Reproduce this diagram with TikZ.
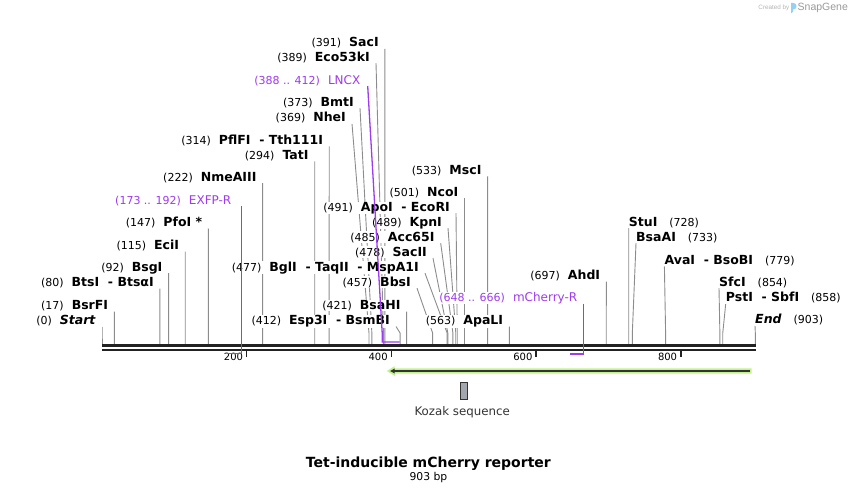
\documentclass[tikz,border=0pt]{standalone}
\usepackage{fontspec}
\setmainfont{DejaVu Sans}
\newfontfamily\credfont{Liberation Sans}
\usetikzlibrary{arrows.meta}

\definecolor{cutgray}{HTML}{8C8C8C}
\definecolor{primerpurple}{HTML}{9D3BEF}
\definecolor{featgreen}{HTML}{C2F28C}
\definecolor{featdark}{HTML}{333333}
\definecolor{seqblack}{HTML}{222222}
\definecolor{kozakgray}{HTML}{A2A7AE}
\definecolor{credgray}{HTML}{B4B4B4}
\definecolor{snapblue}{HTML}{93D2F2}

\newcommand\numf{\fontsize{11}{12}\selectfont}
\newcommand\namf{\fontsize{12.5}{14}\selectfont\bfseries}
\newcommand\primf{\fontsize{12}{14}\selectfont}

\tikzset{
  enz/.style={inner sep=0.5pt, fill=white, text=black},
  primer/.style={text=primerpurple},
  cut/.style={draw=cutgray, line width=0.9pt},
  primerline/.style={draw=primerpurple, line width=1.3pt},
  seqline/.style={draw=seqblack},
  tickmark/.style={draw=seqblack, line width=1.4pt},
  ticklab/.style={inner sep=0pt, font=\fontsize{10}{12}\selectfont}
}

\begin{document}
\begin{tikzpicture}[x=1pt, y=-1pt]
    \useasboundingbox (0,0) rectangle (858,494);

    % --- enzyme sites, labels left of their cut lines ---
    \foreach \id/\pos/\lab/\x/\y in {
        s0/0/\textit{Start}/102/326.5,
        bsrfi/17/BsrFI/114.3/311.5,
        btsi/80/BtsI\ \ - BtsαI/159.9/288.5,
        bsgi/92/BsgI/168.6/273.2,
        ecii/115/EciI/185.2/251.5,
        pfoi/147/PfoI */208.4/228.5,
        nme/222/NmeAIII/262.6/183.2,
        tati/294/TatI/314.7/161.5,
        pflfi/314/PflFI\ \ - Tth111I/329.2/146.5,
        nhei/369/NheI/352/123.8,
        bmti/373/BmtI/360/108.2,
        eco/389/Eco53kI/376/63.2,
        saci/391/SacI/384.9/48.8,
        esp/412/Esp3I\ \ - BsmBI/396/326.5,
        bsahi/421/BsaHI/406.6/311.5,
        bbsi/457/BbsI/417/288.2,
        bgli/477/BglI\ \ - TaqII\ \ - MspA1I/425/273.2,
        sacii/478/SacII/433/258.2,
        acc/485/Acc65I/440.7/243.2,
        kpni/489/KpnI/448/228.2,
        apoi/491/ApoI\ \ - EcoRI/456/213.2,
        ncoi/501/NcoI/464.5/198.2,
        msci/533/MscI/487.6/176.5,
        apali/563/ApaLI/509.3/326.5,
        ahdi/697/AhdI/606.3/281.5} {
        \coordinate (t\id) at (\x,\y);
        \coordinate (b\id) at ({102+0.7235*\pos},333);
        \coordinate (s\id) at ({102+0.7235*\pos},344.5);
        \draw[cut] (t\id) -- (b\id) -- (s\id);
        \node[enz, anchor=base east] (n\id) at ({\x-5.5},{\y-2})
            {{\numf(\pos)}\hspace{8pt}{\namf\lab}};
    }

    % --- enzyme sites, labels right of their cut lines ---
    \foreach \id/\pos/\lab/\x/\y in {
        stui/728/StuI/628.7/228.2,
        bsaai/733/BsaAI/636/243.2,
        avai/779/AvaI\ \ - BsoBI/664.4/266.5,
        sfci/854/SfcI/719/288.2,
        psti/858/PstI\ \ - SbfI/725.7/303.8,
        e903/903/\textit{End}/755/325.8} {
        \coordinate (t\id) at (\x,\y);
        \coordinate (b\id) at ({102+0.7235*\pos},333);
        \coordinate (s\id) at ({102+0.7235*\pos},344.5);
        \draw[cut] (t\id) -- (b\id) -- (s\id);
        \node[enz, anchor=base west] (n\id) at ({\x-0.5},{\y-2})
            {{\namf\lab}\hspace{12pt}{\numf(\pos)}};
    }

    % --- primers ---
    \coordinate (texfp) at (241.6,206.5); \coordinate (kexfp) at (241.6,353.5);
    \coordinate (eexfp) at (226.7,353.5);
    \coordinate (tlncx) at (367.7,86); \coordinate (blncx) at (382.2,333);
    \coordinate (klncx) at (382.2,342); \coordinate (elncx) at (399.6,342);
    \coordinate (tmch) at (583.3,303.5); \coordinate (kmch) at (583.3,354);
    \coordinate (emch) at (570,354);

    % --- sequence line and ruler ---
    \coordinate (seqL) at (102,345.5); \coordinate (seqR) at (755.5,345.5);
    \draw[seqline, line width=2.8pt] (seqL) -- (seqR);
    \draw[seqline, line width=2pt] ([yshift=-4.2pt]seqL) -- ([yshift=-4.2pt]seqR);
    \foreach \t in {200,400,600,800} {
        \coordinate (tk\t) at ({102+0.7235*\t},350.5);
        \draw[tickmark] (tk\t) -- ++(0,6.5);
        \node[ticklab, anchor=east] (tl\t) at ([xshift=-3.5pt]{102+0.7235*\t},356.7) {\t};
    }

    \draw[primerline] (texfp) -- (kexfp) -- (eexfp);
    \draw[primerline] (tlncx) -- (blncx) -- (klncx) -- (elncx);
    \draw[primerline] (tmch) -- (kmch) -- (emch);
    \node[enz, primer, anchor=base east] (nexfp) at (232,204.3)
        {{\numf(173 .. 192)}\hspace{8pt}{\primf EXFP-R}};
    \node[enz, primer, anchor=base east] (nlncx) at (361,85)
        {{\numf(388 .. 412)}\hspace{8pt}{\primf LNCX}};
    \node[enz, primer, anchor=base east] (nmch) at (578,301.3)
        {{\numf(648 .. 666)}\hspace{8pt}{\primf mCherry-R}};

    % --- feature arrow and Kozak sequence ---
    \coordinate (fR) at (751.7,371); \coordinate (fL) at (386.7,371);
    \fill[featgreen] ([yshift=2.7pt]fR) -- ++(-357,0) -- ++(0,-2.3) -- (fL)
        -- ++(8.3,5) -- ++(0,-2.3) -- ([yshift=-2.7pt]fR) -- cycle;
    \draw[featdark, line width=1.6pt, -{Latex[length=5pt,width=5.5pt]}]
        ([xshift=-2pt]fR) -- ([xshift=3pt]fL);

    \node[draw=featdark, fill=kozakgray, line width=0.9pt, inner sep=0pt,
          minimum width=7pt, minimum height=16.5pt] (kozak) at (463.7,391) {};
    \node[inner sep=0pt, font=\fontsize{11.8}{14}\selectfont, text=featdark]
        (kozaklab) at (462.2,412.3) {Kozak sequence};

    % --- title ---
    \node[inner sep=0pt, font=\fontsize{14}{16}\selectfont\bfseries] (title)
        at (428.4,463.3) {Tet-inducible mCherry reporter};
    \node[inner sep=0pt, font=\fontsize{10.8}{12}\selectfont] (size)
        at (428.4,477.7) {903 bp};

    % --- credit ---
    \node[inner sep=0pt, anchor=east, text=credgray, font=\credfont\fontsize{6.3}{8}\selectfont]
        (cred) at (789.5,8) {Created by};
    \fill[snapblue] (791,13.5) -- (791,3) -- (793.5,3)
        .. controls (797.5,3) and (797.5,9.5) .. (793.5,9.5) -- (793,9.5) -- (793,11.5) -- cycle;
    \node[inner sep=0pt, anchor=west, text=credgray!85!black, font=\credfont\fontsize{10.5}{12}\selectfont]
        (snap) at (797.5,8) {SnapGene};
\end{tikzpicture}
\end{document}
